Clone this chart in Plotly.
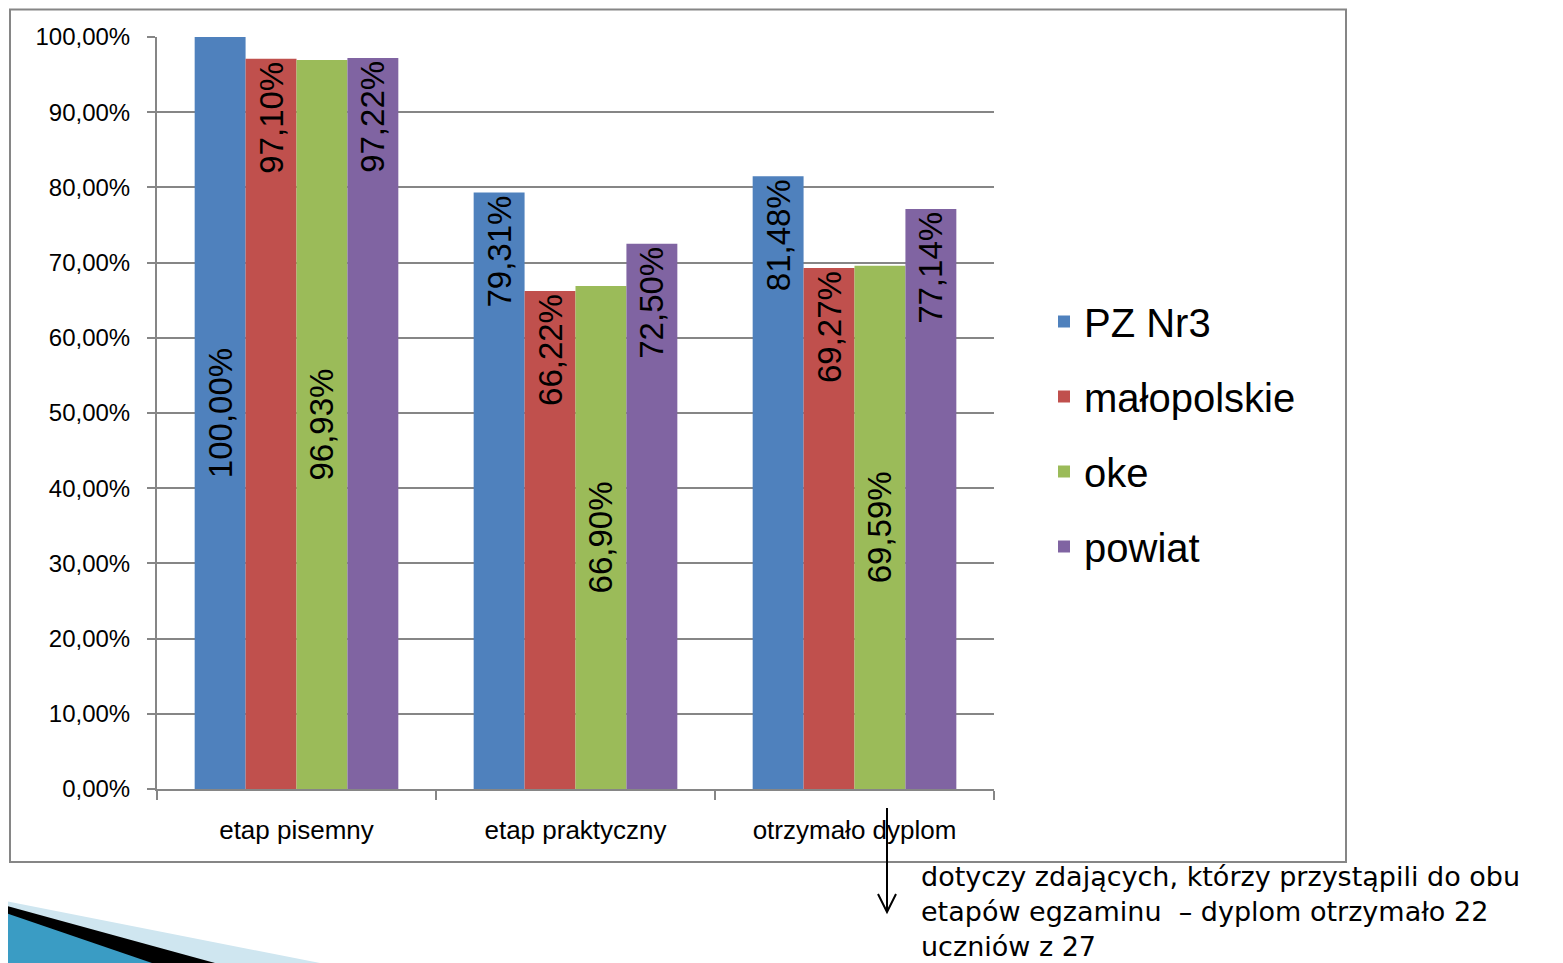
import plotly.graph_objects as go

categories = ["etap pisemny", "etap praktyczny", "otrzymało dyplom"]
pz_nr3 = [100.00, 79.31, 81.48]
malopolskie = [97.10, 66.22, 69.27]
oke = [96.93, 66.90, 69.59]
powiat = [97.22, 72.50, 77.14]
series_names = ["PZ Nr3", "małopolskie", "oke", "powiat"]
colors = ["#4F81BD", "#C0504D", "#9BBB59", "#8064A2"]
y_ticks = [0, 10, 20, 30, 40, 50, 60, 70, 80, 90, 100]
y_tick_text = [f"{v:.2f}".replace(".", ",") + "%" for v in y_ticks]
note_lines = ["dotyczy zdających, którzy przystąpili do obu",
              "etapów egzaminu  – dyplom otrzymało 22",
              "uczniów z 27"]

# page has an 8px body margin; figure is sized so it ends at the window edge
OFF = 8
W, H = 1563 - OFF, 963 - OFF
L, R, T, B = 157, 994, 37, 789  # plot area in page pixels


def px(x):
    return (x - L) / (R - L)


def py(y):
    return (B - y) / (B - T)


FONT = "Liberation Sans"
label_font = dict(family=FONT, size=33, color="black")

fig = go.Figure()


def add_bar(name, color, xs, ys, anchor, showlegend):
    fig.add_trace(go.Bar(
        name=name, x=xs, y=ys, marker=dict(color=color, line=dict(width=0)),
        offsetgroup=name, legendgroup=name, showlegend=showlegend,
        texttemplate="%{y:.2f}%", textposition="inside", textangle=-90,
        insidetextanchor=anchor, textfont=label_font, constraintext="none",
    ))


# PZ Nr3: first bar label centred, others at the top end
add_bar(series_names[0], colors[0], categories[:1], pz_nr3[:1], "middle", True)
add_bar(series_names[0], colors[0], categories[1:], pz_nr3[1:], "end", False)
add_bar(series_names[1], colors[1], categories, malopolskie, "end", True)
add_bar(series_names[2], colors[2], categories, oke, "middle", True)
add_bar(series_names[3], colors[3], categories, powiat, "end", True)

axis_gray = "#868686"
shapes = [
    # outer chart frame
    dict(type="rect", xref="paper", yref="paper", x0=px(10), x1=px(1346),
         y0=py(862), y1=py(9.5), line=dict(color=axis_gray, width=2), layer="below"),
    # arrow
    dict(type="line", xref="paper", yref="paper", x0=px(887), x1=px(887),
         y0=py(808), y1=py(912), line=dict(color="black", width=2), layer="above"),
    dict(type="path", xref="paper", yref="paper",
         path=f"M {px(878)},{py(894)} L {px(887)},{py(912)} L {px(896)},{py(894)}",
         line=dict(color="black", width=2), layer="above"),
    # decorative swoosh bottom-left
    dict(type="path", xref="paper", yref="paper",
         path=f"M {px(0)},{py(900)} L {px(320)},{py(963)} L {px(0)},{py(963)} Z",
         fillcolor="#CFE6F0", line=dict(width=0), layer="above"),
    dict(type="path", xref="paper", yref="paper",
         path=f"M {px(0)},{py(904)} L {px(215)},{py(963)} L {px(0)},{py(963)} Z",
         fillcolor="black", line=dict(width=0), layer="above"),
    dict(type="path", xref="paper", yref="paper",
         path=f"M {px(0)},{py(911)} L {px(152)},{py(963)} L {px(0)},{py(963)} Z",
         fillcolor="#3A9CC4", line=dict(width=0), layer="above"),
]

fig.update_layout(
    width=W, height=H, autosize=False,
    margin=dict(l=L - OFF, r=W - (R - OFF), t=T - OFF, b=H - (B - OFF), pad=0),
    paper_bgcolor="white", plot_bgcolor="white",
    barmode="group", bargap=0.27, bargroupgap=0,
    separators=", ",
    font=dict(family=FONT, color="black"),
    showlegend=True,
    legend=dict(x=px(1044), xanchor="left", y=py(289), yanchor="top",
                font=dict(family=FONT, size=40, color="black"),
                traceorder="grouped", tracegroupgap=20,
                bgcolor="rgba(0,0,0,0)", itemwidth=30),
    shapes=shapes,
    annotations=[dict(
        xref="paper", yref="paper", x=px(919), y=py(859), xanchor="left", yanchor="top",
        text="<br>".join(note_lines), showarrow=False, align="left",
        font=dict(family="DejaVu Sans", size=27, color="black"),
    )],
)

fig.update_xaxes(
    showline=True, linecolor=axis_gray, linewidth=2,
    ticks="outside", tickson="boundaries", ticklen=9, tickcolor=axis_gray, tickwidth=2,
    tickfont=dict(family=FONT, size=26, color="black"), showgrid=False,
    ticklabelstandoff=17,
)
fig.update_yaxes(
    range=[0, 100], tickvals=y_ticks, ticktext=y_tick_text,
    showline=True, linecolor=axis_gray, linewidth=2,
    ticks="outside", ticklen=8, tickcolor=axis_gray, tickwidth=2,
    showgrid=True, gridcolor=axis_gray, gridwidth=2, zeroline=False,
    tickfont=dict(family=FONT, size=24, color="black"),
    ticklabelstandoff=12,
)

fig.write_html("out.html")
